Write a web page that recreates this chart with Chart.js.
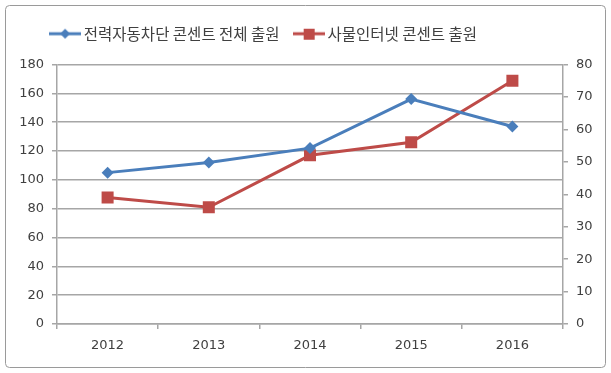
<!DOCTYPE html>
<html>
<head>
<meta charset="utf-8">
<script src="https://cdn.jsdelivr.net/npm/chart.js@4"></script>
<style>
  html, body { margin: 0; padding: 0; background: #fff; }
  #wrap { width: 611px; height: 373px; position: relative; }
</style>
</head>
<body>
<div id="wrap"><canvas id="chart" width="611" height="373"></canvas></div>
<script>
const years = ['2012', '2013', '2014', '2015', '2016'];
const totalFilings = [105, 112, 122, 156, 137];
const iotFilings = [39, 36, 52, 56, 75];
const seriesNames = ['전력자동차단 콘센트 전체 출원', '사물인터넷 콘센트 출원'];

const BLUE = '#4a7ebb';
const RED = '#be4b48';
const GRID = '#a6a6a6';
const TEXT = '#404040';

// little legend swatch: line with its marker in the middle
function swatch(color, shape) {
    const c = document.createElement('canvas');
    c.width = 32; c.height = 14;
    const g = c.getContext('2d');
    g.strokeStyle = color;
    g.lineWidth = 3;
    g.beginPath(); g.moveTo(0, 7); g.lineTo(32, 7); g.stroke();
    g.fillStyle = color;
    if (shape === 'diamond') {
        g.beginPath();
        g.moveTo(16, 2); g.lineTo(21, 7); g.lineTo(16, 12); g.lineTo(11, 7);
        g.closePath(); g.fill();
    } else {
        g.fillRect(11, 2, 11, 11);
    }
    return c;
}
const swatches = [swatch(BLUE, 'diamond'), swatch(RED, 'square')];

const frame = {
    id: 'frame',
    beforeInit(chart) {
        // give the legend some extra room below it
        const fit = chart.legend.fit;
        chart.legend.fit = function () {
            fit.call(this);
            this.height += 13;
        };
    },
    afterLayout(chart) {
        // legend sits a bit left of centre in the original
        chart.legend.right -= 80;
    },
    beforeDraw(chart) {
        const g = chart.ctx;
        g.save();
        g.strokeStyle = '#9a9a9a';
        g.lineWidth = 1;
        g.beginPath();
        g.roundRect(5.5, 5.5, 600, 362, 4);
        g.stroke();
        g.restore();
    }
};

const ctx = document.getElementById('chart').getContext('2d');
const chart = new Chart(ctx, {
    type: 'line',
    data: {
        labels: years,
        datasets: [{
            label: seriesNames[0],
            data: totalFilings,
            yAxisID: 'y',
            borderColor: BLUE,
            backgroundColor: BLUE,
            borderWidth: 3,
            pointStyle: 'rectRot',
            pointRadius: 6,
            pointBorderWidth: 0,
            tension: 0
        }, {
            label: seriesNames[1],
            data: iotFilings,
            yAxisID: 'y1',
            borderColor: RED,
            backgroundColor: RED,
            borderWidth: 3,
            pointStyle: 'rect',
            pointRadius: 8.5,
            pointBorderWidth: 0,
            tension: 0
        }]
    },
    options: {
        responsive: false,
        animation: false,
        layout: { padding: { left: 10, right: 10, top: 8, bottom: 8 } },
        plugins: {
            tooltip: { enabled: false },
            legend: {
                position: 'top',
                labels: {
                    color: TEXT,
                    font: { family: "'Noto Sans CJK KR', sans-serif", size: 15.5 },
                    usePointStyle: true,
                    pointStyleWidth: 22,
                    padding: 18,
                    generateLabels(chart) {
                        return chart.data.datasets.map((ds, i) => ({
                            text: ds.label,
                            fillStyle: ds.borderColor,
                            strokeStyle: ds.borderColor,
                            fontColor: TEXT,
                            pointStyle: swatches[i],
                            datasetIndex: i,
                            hidden: false,
                            lineWidth: 0
                        }));
                    }
                }
            }
        },
        scales: {
            x: {
                offset: true,
                grid: { display: true, drawOnChartArea: false, offset: true, tickLength: 5, color: GRID, lineWidth: 1.5 },
                border: { color: GRID, width: 1.5 },
                ticks: { color: TEXT, font: { family: "'DejaVu Sans', sans-serif", size: 13 }, padding: 9 },
                afterFit(s) { s.height = 41; }
            },
            y: {
                position: 'left',
                min: 0, max: 180,
                ticks: { stepSize: 20, color: TEXT, font: { family: "'DejaVu Sans', sans-serif", size: 13 }, padding: 8 },
                grid: { color: GRID, lineWidth: 1.5, tickLength: 5 },
                border: { color: GRID, width: 1.5 },
                afterFit(s) { s.width = 47; }
            },
            y1: {
                position: 'right',
                min: 0, max: 80,
                ticks: { stepSize: 10, color: TEXT, font: { family: "'DejaVu Sans', sans-serif", size: 13 }, padding: 8 },
                grid: { drawOnChartArea: false, color: GRID, lineWidth: 1.5, tickLength: 5 },
                border: { color: GRID, width: 1.5 },
                afterFit(s) { s.width = 38; }
            }
        }
    },
    plugins: [frame]
});
</script>
</body>
</html>
